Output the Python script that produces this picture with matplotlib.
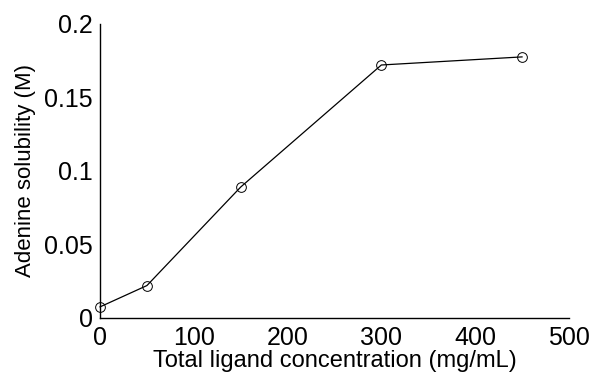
import matplotlib
matplotlib.use("Agg")
import matplotlib.pyplot as plt

# ligand concentration (mg/mL) vs adenine solubility (M)
conc = [0, 50, 150, 300, 450]
solubility = [0.0075, 0.022, 0.089, 0.172, 0.1775]

x_ticks = [0, 100, 200, 300, 400, 500]
y_ticks = [0, 0.05, 0.1, 0.15, 0.2]
y_ticklabels = ["0", "0.05", "0.1", "0.15", "0.2"]

plt.rcParams["font.family"] = ["Liberation Sans", "DejaVu Sans"]

fig = plt.figure(figsize=(5.92, 3.78), dpi=100)
ax = fig.add_axes([0.169, 0.159, 0.792, 0.778])

ax.plot(conc, solubility, color="black", lw=0.9, marker="o", ms=7,
        mfc="none", mec="black", mew=0.7, clip_on=False)

ax.set_xlim(0, 500)
ax.set_ylim(0, 0.2)
ax.set_xticks(x_ticks)
ax.set_yticks(y_ticks)
ax.set_yticklabels(y_ticklabels)
ax.tick_params(axis="x", length=0, labelsize=18, pad=6)
ax.tick_params(axis="y", length=0, labelsize=18, pad=5)
for s in ("top", "right"):
    ax.spines[s].set_visible(False)
for s in ("left", "bottom"):
    ax.spines[s].set_linewidth(1.0)

ax.set_xlabel("Total ligand concentration (mg/mL)", fontsize=17, labelpad=0)
ax.set_ylabel("Adenine solubility (M)", fontsize=16, labelpad=6)

fig.savefig("out.png", dpi=100)
